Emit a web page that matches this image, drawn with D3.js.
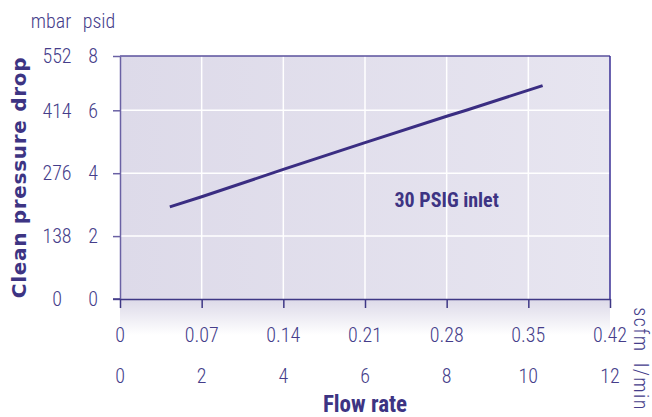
<!DOCTYPE html>
<html lang="en">
<head>
<meta charset="UTF-8">
<title>Clean pressure drop</title>
<script src="https://cdn.jsdelivr.net/npm/d3@7"></script>
<style>
    body { margin: 0; background: #fff; }
    svg { display: block; }
    .tick-label { font-family: "Roboto Condensed", "Liberation Sans", sans-serif; font-weight: 300; font-size: 20px; fill: #453d8a; }
</style>
</head>
<body>
<script>
// flow rate in l/min and matching scfm ticks
const lpmTicks = [0, 2, 4, 6, 8, 10, 12];
const scfmTicks = [0, 0.07, 0.14, 0.21, 0.28, 0.35, 0.42];
// pressure drop ticks, psid and mbar
const psidTicks = [0, 2, 4, 6, 8];
const mbarTicks = [0, 138, 276, 414, 552];

// 30 PSIG inlet curve
const flowLpm = [1.22, 2, 4, 6, 8, 8.48, 10.35];
const dropPsid = [2.93, 3.25, 4.12, 4.97, 5.81, 6.0, 6.91];
const seriesLabel = "30 PSIG inlet";
const labelAt = [8, 2.93];

const W = 652, H = 417;
const ink = "#3d3483";

const svg = d3.select("body").append("svg")
    .attr("width", W)
    .attr("height", H);

const x = d3.scaleLinear().domain([0, 12]).range([120, 610]);
const xScfm = d3.scaleLinear().domain([0, 0.42]).range([120, 610]);
// the top band of the original plot is a bit squeezed
const y = d3.scaleLinear().domain([0, 6, 8]).range([299, 110.3, 56]);
const yMbar = d3.scaleLinear().domain([0, 414, 552]).range(y.range());

const defs = svg.append("defs");
const bg = defs.append("linearGradient").attr("id", "bg");
bg.append("stop").attr("offset", "0%").attr("stop-color", "#dddae9");
bg.append("stop").attr("offset", "100%").attr("stop-color", "#e7e5f0");
const shade = defs.append("linearGradient").attr("id", "shade")
    .attr("x1", 0).attr("y1", 0).attr("x2", 0).attr("y2", 1);
shade.append("stop").attr("offset", "0%").attr("stop-color", "#dcd9e8");
shade.append("stop").attr("offset", "100%").attr("stop-color", "#ffffff");

// plot background and the fade under the x axis
svg.append("rect")
    .attr("x", x(0)).attr("y", y(8))
    .attr("width", x(12) - x(0)).attr("height", y(0) - y(8))
    .attr("fill", "url(#bg)");
svg.append("rect")
    .attr("x", x(0)).attr("y", y(0))
    .attr("width", x(12) - x(0)).attr("height", 36)
    .attr("fill", "url(#shade)");

// grid
svg.append("g")
    .selectAll("line")
    .data(lpmTicks.slice(1, -1))
    .join("line")
    .attr("x1", d => x(d)).attr("x2", d => x(d))
    .attr("y1", y(8)).attr("y2", y(0))
    .attr("stroke", "#fff").attr("stroke-width", 1.5);
svg.append("g")
    .selectAll("line")
    .data(psidTicks.slice(1, -1))
    .join("line")
    .attr("x1", x(0)).attr("x2", x(12))
    .attr("y1", d => y(d)).attr("y2", d => y(d))
    .attr("stroke", "#fff").attr("stroke-width", 1.5);

// frame: top and right
svg.append("line")
    .attr("x1", x(0)).attr("x2", x(12))
    .attr("y1", y(8)).attr("y2", y(8))
    .attr("stroke", "#5a509c").attr("stroke-width", 1.5);
svg.append("line")
    .attr("x1", x(12)).attr("x2", x(12))
    .attr("y1", y(8)).attr("y2", y(0))
    .attr("stroke", "#3a2f96").attr("stroke-width", 1.5);

// axes
const yAxis = svg.append("g")
    .attr("transform", `translate(${x(0)},0)`)
    .call(d3.axisLeft(y).tickValues(psidTicks).tickSize(7).tickSizeOuter(0).tickFormat(""));
yAxis.selectAll("path, line").attr("stroke", "#6a61a4").attr("stroke-width", 1.5);

const xAxis = svg.append("g")
    .attr("transform", `translate(0,${y(0)})`)
    .call(d3.axisBottom(x).tickValues(lpmTicks).tickSize(9).tickSizeOuter(0).tickFormat(""));
xAxis.select("path").attr("stroke", "#3e3785").attr("stroke-width", 1.5);
xAxis.selectAll("line").attr("stroke", "#3e3785").attr("stroke-width", 1.5);
svg.append("line")
    .attr("x1", x(0) - 7).attr("x2", x(0))
    .attr("y1", y(0)).attr("y2", y(0))
    .attr("stroke", "#3e3785").attr("stroke-width", 1.5);

// tick labels
svg.append("g").selectAll("text")
    .data(mbarTicks)
    .join("text")
    .attr("class", "tick-label")
    .attr("x", 57).attr("y", d => yMbar(d)).attr("dy", "0.36em")
    .attr("text-anchor", "middle")
    .text(d => d);
svg.append("g").selectAll("text")
    .data(psidTicks)
    .join("text")
    .attr("class", "tick-label")
    .attr("x", 93).attr("y", d => y(d)).attr("dy", "0.36em")
    .attr("text-anchor", "middle")
    .text(d => d);
svg.append("g").selectAll("text")
    .data(scfmTicks)
    .join("text")
    .attr("class", "tick-label")
    .attr("x", d => xScfm(d)).attr("y", 342)
    .attr("text-anchor", "middle")
    .text(d => d === 0 ? "0" : d3.format(".2f")(d));
svg.append("g").selectAll("text")
    .data(lpmTicks)
    .join("text")
    .attr("class", "tick-label")
    .attr("x", d => x(d)).attr("y", 383)
    .attr("text-anchor", "middle")
    .text(d => d);

// unit labels
svg.append("text").attr("class", "tick-label")
    .attr("x", 51).attr("y", 28).attr("text-anchor", "middle").text("mbar");
svg.append("text").attr("class", "tick-label")
    .attr("x", 99).attr("y", 28).attr("text-anchor", "middle").text("psid");
svg.append("text").attr("class", "tick-label")
    .attr("transform", "translate(634,330) rotate(90)")
    .attr("text-anchor", "middle").attr("font-size", 17).attr("letter-spacing", 1.5).text("scfm");
svg.append("text").attr("class", "tick-label")
    .attr("transform", "translate(634,387) rotate(90)")
    .attr("text-anchor", "middle").attr("font-size", 17).attr("letter-spacing", 1.5).text("l/min");

// axis titles
svg.append("text")
    .attr("transform", `translate(26,${(y(0) + y(8)) / 2}) rotate(-90)`)
    .attr("text-anchor", "middle")
    .attr("font-family", "DejaVu Sans, sans-serif")
    .attr("font-weight", "bold")
    .attr("font-size", 20)
    .attr("letter-spacing", 0.7)
    .attr("fill", ink)
    .text("Clean pressure drop");
svg.append("text")
    .attr("x", x(6)).attr("y", 412)
    .attr("text-anchor", "middle")
    .attr("font-family", "Roboto Condensed, Liberation Sans, sans-serif")
    .attr("font-weight", "bold")
    .attr("font-size", 23)
    .attr("fill", ink)
    .text("Flow rate");

// series
const pts = flowLpm.map((f, i) => [f, dropPsid[i]]);
svg.append("path")
    .datum(pts)
    .attr("d", d3.line().x(d => x(d[0])).y(d => y(d[1])))
    .attr("fill", "none")
    .attr("stroke", "#3a2d82")
    .attr("stroke-width", 3);

svg.append("text")
    .attr("x", x(labelAt[0])).attr("y", y(labelAt[1]))
    .attr("text-anchor", "middle")
    .attr("font-family", "Roboto Condensed, Liberation Sans, sans-serif")
    .attr("font-weight", "bold")
    .attr("font-size", 20)
    .attr("fill", ink)
    .text(seriesLabel);
</script>
</body>
</html>
